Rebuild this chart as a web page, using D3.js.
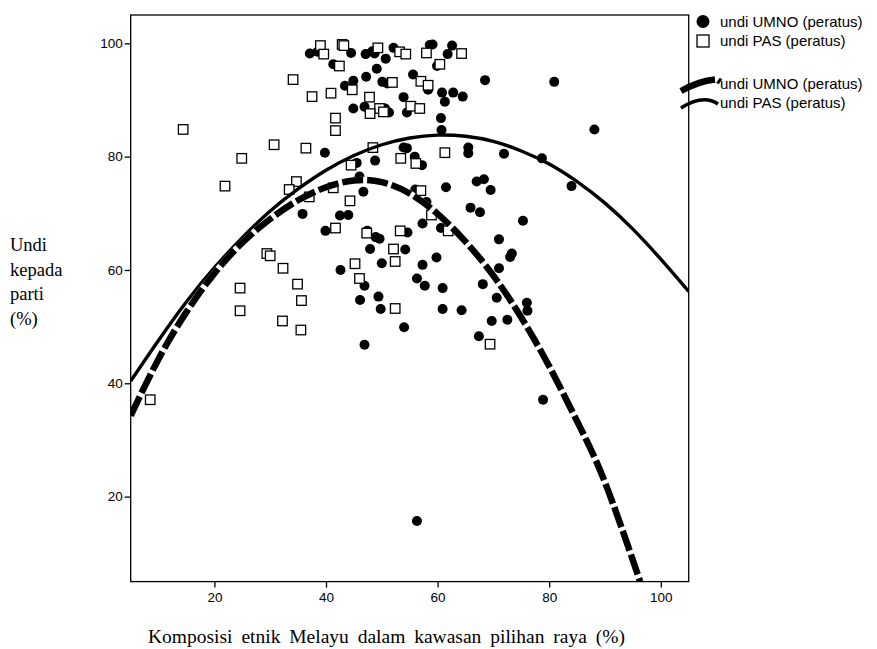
<!DOCTYPE html>
<html>
<head>
<meta charset="utf-8">
<script src="https://cdn.jsdelivr.net/npm/d3@7"></script>
<style>
  html, body { margin: 0; padding: 0; background: #fff; }
  svg { display: block; }
  .tick text { font-family: "Liberation Sans", Arial, sans-serif; font-size: 13.5px; fill: #000; }
  .tick line { stroke: #000; stroke-width: 1.3; }
  .serif { font-family: "Liberation Serif", "Times New Roman", serif; font-size: 18.5px; fill: #000; }
  .xtitle { font-size: 19.5px; }
  .legend { font-family: "Liberation Sans", Arial, sans-serif; font-size: 15px; fill: #000; }
</style>
</head>
<body>
<svg id="chart" width="877" height="649"></svg>
<script>
// Scatter: UMNO vote share (circles) and PAS vote share (squares) vs Malay composition
const umnoPoints = [
  [37.1, 98.2], [38.5, 98.5], [44.5, 98.3], [47.1, 98.1], [48.3, 98.6], [48.7, 98.2],
  [52.1, 99.2], [50.7, 97.3], [41.3, 96.3], [49.1, 95.5], [47.2, 94.1], [44.9, 93.4],
  [43.4, 92.5], [50.1, 93.2], [51.0, 92.9], [53.9, 90.5], [44.9, 88.5], [46.9, 88.8],
  [50.6, 88.5], [51.3, 87.8], [54.5, 87.8], [39.8, 80.7], [53.9, 81.6], [58.6, 99.7],
  [59.1, 99.8], [62.6, 99.6], [61.8, 98.1], [59.9, 96.0], [55.6, 94.5], [58.3, 91.8],
  [60.8, 91.3], [62.8, 91.3], [64.5, 90.6], [61.3, 89.7], [68.5, 93.5], [80.9, 93.2],
  [88.1, 84.8], [60.6, 86.8], [60.7, 84.7], [54.5, 81.5], [55.9, 80.0], [65.5, 81.6],
  [65.5, 80.6], [71.9, 80.5], [78.7, 79.7], [45.5, 78.9], [48.8, 79.3], [46.0, 76.5],
  [46.7, 73.8], [35.8, 69.9], [42.5, 69.6], [44.0, 69.7], [39.9, 66.9], [47.4, 66.9],
  [48.9, 65.8], [49.6, 65.5], [47.9, 63.7], [54.2, 63.6], [54.6, 66.6], [50.0, 61.2],
  [42.6, 60.0], [46.9, 57.2], [57.2, 78.5], [84.0, 74.8], [67.0, 75.6], [68.3, 76.0],
  [69.5, 74.1], [56.0, 74.2], [58.0, 72.0], [65.9, 71.0], [67.6, 70.2], [75.3, 68.7],
  [57.3, 68.2], [60.6, 67.4], [71.0, 65.4], [73.3, 62.9], [73.0, 62.3], [59.8, 62.2],
  [57.3, 60.9], [71.0, 60.3], [56.3, 58.5], [57.7, 57.2], [60.9, 56.8], [68.1, 57.5],
  [61.5, 74.6], [46.1, 54.7], [49.4, 55.3], [49.8, 53.1], [54.0, 49.9], [46.9, 46.8],
  [70.6, 55.1], [76.0, 54.2], [76.1, 52.8], [60.9, 53.1], [64.3, 52.9], [69.7, 51.0],
  [72.5, 51.2], [67.4, 48.3], [78.9, 37.1], [56.3, 15.7]
];

const pasPoints = [
  [39.0, 99.6], [39.6, 98.1], [42.9, 99.8], [43.2, 99.6], [49.3, 99.2], [53.2, 98.5],
  [54.3, 98.1], [42.4, 96.0], [34.1, 93.6], [51.9, 93.1], [44.7, 91.8], [40.9, 91.2],
  [37.5, 90.6], [47.8, 90.5], [49.6, 88.5], [47.9, 87.6], [50.3, 87.9], [41.7, 86.8],
  [41.7, 84.6], [14.4, 84.8], [30.7, 82.1], [36.4, 81.5], [24.9, 79.7], [48.4, 81.6],
  [53.4, 79.7], [58.0, 98.3], [64.3, 98.2], [60.4, 96.3], [57.0, 93.3], [58.3, 92.6],
  [55.2, 88.9], [56.8, 88.5], [61.3, 80.7], [21.9, 74.8], [34.7, 75.6], [33.4, 74.2],
  [37.0, 72.9], [41.3, 74.5], [44.3, 72.2], [44.5, 78.5], [41.7, 67.4], [47.3, 66.5],
  [53.3, 66.9], [52.1, 63.7], [52.4, 61.5], [29.4, 62.9], [30.0, 62.5], [32.3, 60.3],
  [45.2, 61.1], [46.0, 58.5], [34.9, 57.5], [24.6, 56.8], [56.1, 78.8], [57.0, 74.0],
  [58.9, 69.7], [61.9, 66.9], [24.6, 52.8], [35.6, 54.6], [32.2, 51.0], [35.5, 49.4],
  [8.5, 37.1], [52.4, 53.2], [69.4, 46.9]
];

// Fitted curves
const umnoFitX = [5, 10, 15, 20, 25, 30, 35, 40, 45, 50, 55, 60, 65, 70, 75, 80, 85, 90, 96.3];
const umnoFitY = [34.3, 44.3, 52.6, 59.4, 64.8, 69.0, 72.3, 74.6, 75.8, 75.5, 73.5, 69.9, 65.0, 59.0, 51.6, 43.0, 33.3, 22.5, 5];
const pasFitX = [5, 10, 15, 20, 25, 30, 35, 40, 45, 50, 55, 60, 65, 70, 75, 80, 85, 90, 95, 100, 105];
const pasFitY = [40.4, 47.6, 54.4, 60.4, 65.7, 70.4, 74.3, 77.6, 80.2, 82.1, 83.3, 83.8, 83.6, 82.7, 81.0, 78.7, 75.6, 71.8, 67.2, 61.9, 56.2];

const xTicks = [20, 40, 60, 80, 100];
const yTicks = [20, 40, 60, 80, 100];
const legendLabels = ['undi UMNO (peratus)', 'undi PAS (peratus)'];

const plot = { left: 130.7, right: 688.7, top: 15, bottom: 581.6 };

const svg = d3.select('#chart');

const x = d3.scaleLinear().domain([5, 105]).range([plot.left, plot.right]);
const y = d3.scaleLinear().domain([5, 105]).range([plot.bottom, plot.top]);

// Axes
const xAxis = svg.append('g')
  .attr('transform', `translate(0,${plot.bottom})`)
  .call(d3.axisBottom(x).tickValues(xTicks).tickSize(6).tickPadding(5));
xAxis.select('.domain').remove();

const yAxis = svg.append('g')
  .attr('transform', `translate(${plot.left},0)`)
  .call(d3.axisLeft(y).tickValues(yTicks).tickSize(6).tickPadding(2));
yAxis.select('.domain').remove();

// Clip for the curves
svg.append('clipPath').attr('id', 'clip')
  .append('rect')
  .attr('x', plot.left).attr('y', plot.top)
  .attr('width', plot.right - plot.left).attr('height', plot.bottom - plot.top);

// Points: circles first, squares on top
svg.append('g').selectAll('circle')
  .data(umnoPoints)
  .join('circle')
  .attr('cx', d => x(d[0]))
  .attr('cy', d => y(d[1]))
  .attr('r', 5)
  .attr('fill', '#000');

const sq = 9.5;
svg.append('g').selectAll('rect')
  .data(pasPoints)
  .join('rect')
  .attr('x', d => x(d[0]) - sq / 2)
  .attr('y', d => y(d[1]) - sq / 2)
  .attr('width', sq)
  .attr('height', sq)
  .attr('fill', '#fff')
  .attr('stroke', '#000')
  .attr('stroke-width', 1.3);

// Fit lines
const line = d3.line()
  .x(d => x(d[0]))
  .y(d => y(d[1]))
  .curve(d3.curveNatural);

const pasFit = pasFitX.map((v, i) => [v, pasFitY[i]]);
const umnoFit = umnoFitX.map((v, i) => [v, umnoFitY[i]]);

const curves = svg.append('g').attr('clip-path', 'url(#clip)');
curves.append('path')
  .datum(pasFit)
  .attr('d', line)
  .attr('fill', 'none')
  .attr('stroke', '#000')
  .attr('stroke-width', 3.4);

// dashed line: white under-stroke so gaps show white
curves.append('path')
  .datum(umnoFit)
  .attr('d', line)
  .attr('fill', 'none')
  .attr('stroke', '#fff')
  .attr('stroke-width', 6.5);
curves.append('path')
  .datum(umnoFit)
  .attr('d', line)
  .attr('fill', 'none')
  .attr('stroke', '#000')
  .attr('stroke-width', 6.5)
  .attr('stroke-dasharray', '21,4');

// Plot frame
svg.append('rect')
  .attr('x', plot.left).attr('y', plot.top)
  .attr('width', plot.right - plot.left).attr('height', plot.bottom - plot.top)
  .attr('fill', 'none')
  .attr('stroke', '#000')
  .attr('stroke-width', 1.3);

// Legend
const lg = svg.append('g');
lg.append('circle').attr('cx', 703).attr('cy', 21.5).attr('r', 6.5).attr('fill', '#000');
lg.append('rect').attr('x', 697).attr('y', 35).attr('width', 12).attr('height', 12)
  .attr('fill', '#fff').attr('stroke', '#000').attr('stroke-width', 1.3);
lg.append('text').attr('class', 'legend').attr('x', 720).attr('y', 26.5).text(legendLabels[0]);
lg.append('text').attr('class', 'legend').attr('x', 720).attr('y', 46).text(legendLabels[1]);

lg.append('path').attr('d', 'M681,91 Q699,81 715,79.5')
  .attr('fill', 'none').attr('stroke', '#000').attr('stroke-width', 6.5);
lg.append('path').attr('d', 'M717.5,83.5 L721,78.5')
  .attr('fill', 'none').attr('stroke', '#000').attr('stroke-width', 3);
lg.append('path').attr('d', 'M681,108 Q703,94 718,104')
  .attr('fill', 'none').attr('stroke', '#000').attr('stroke-width', 3.4);
lg.append('text').attr('class', 'legend').attr('x', 720).attr('y', 89).text(legendLabels[0]);
lg.append('text').attr('class', 'legend').attr('x', 720).attr('y', 108).text(legendLabels[1]);

// Axis titles
const yTitle = ['Undi', 'kepada', 'parti', '(%)'];
svg.append('g').selectAll('text')
  .data(yTitle)
  .join('text')
  .attr('class', 'serif')
  .attr('x', 10)
  .attr('y', (d, i) => 251 + i * 24.5)
  .text(d => d);

svg.append('text')
  .attr('class', 'serif xtitle')
  .attr('x', 148)
  .attr('y', 643)
  .attr('word-spacing', 4)
  .text('Komposisi etnik Melayu dalam kawasan pilihan raya (%)');
</script>
</body>
</html>
